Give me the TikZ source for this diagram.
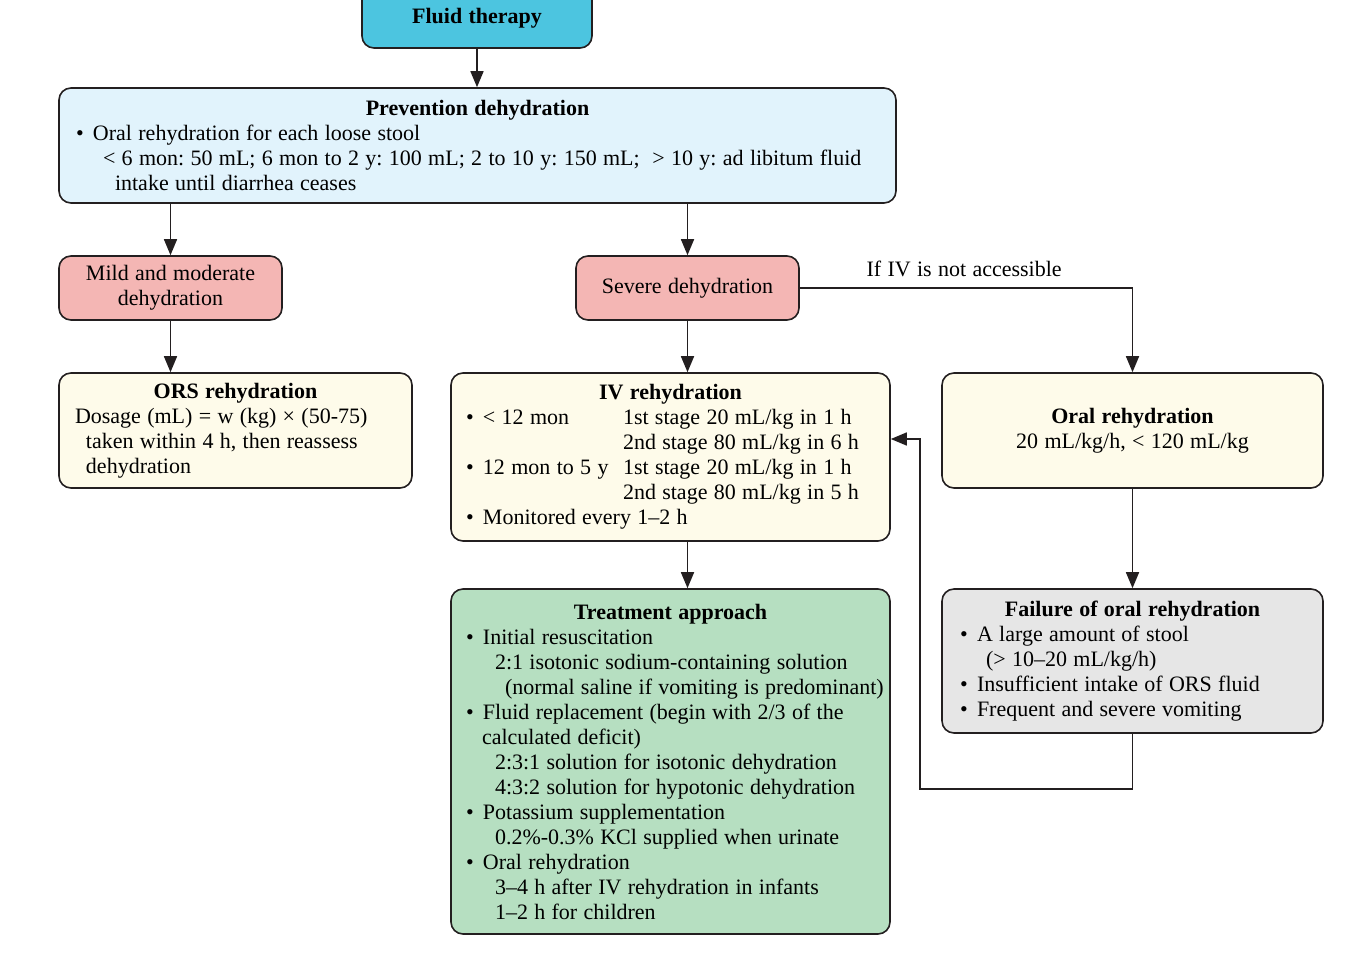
\documentclass[tikz,border=0pt]{standalone}
\usepackage{fontspec}
\setmainfont{Liberation Serif}[WordSpace=1.15]
\usetikzlibrary{arrows.meta}
\definecolor{linec}{RGB}{35,31,32}
\definecolor{fluidc}{RGB}{76,197,224}
\definecolor{prevc}{RGB}{225,243,252}
\definecolor{pinkc}{RGB}{244,182,180}
\definecolor{creamc}{RGB}{254,251,234}
\definecolor{greenc}{RGB}{182,223,193}
\definecolor{grayc}{RGB}{230,230,230}
\newcommand\mybul{\makebox[8.5pt][l]{\textbullet}}
\newcommand\LL[1]{\mbox{#1}}
\newcommand\nsp{\spaceskip=0pt\relax\xspaceskip=0pt\relax}
\newcommand\ttl[1]{\nsp\noindent\makebox[\hsize]{\bfseries #1}}
\newcommand\cl[1]{\nsp #1}
\frenchspacing
\begin{document}
\begin{tikzpicture}[x=0.5pt,y=-0.5pt,
  box/.style={draw=linec, line width=0.8pt, rounded corners=6pt, inner ysep=0pt,
    font=\fontsize{11}{12.5}\selectfont, text=black},
  lbox/.style={box, align=left},
  cbox/.style={box, align=center},
  arr/.style={-{Triangle[length=8pt,width=6.5pt]}, line width=0.8pt, draw=linec},
  lbl/.style={font=\fontsize{11}{12.5}\selectfont}]
\useasboundingbox (0,0) rectangle (1368,979);
\clip (0,0) rectangle (1368,979);

\node[cbox, fill=fluidc, minimum width=115pt, minimum height=30pt] (fluid) at (477,18) {\cl{\bfseries Fluid therapy}};

\node[lbox, fill=prevc, minimum width=418.5pt, minimum height=57.5pt, text width=401.5pt, inner xsep=8.5pt] (prev) at (477.5,145.5)
{\ttl{Prevention dehydration}\\
\LL{\mybul Oral rehydration for each loose stool}\\
\LL{\hspace*{13.5pt}< 6 mon: 50 mL; 6 mon to 2 y: 100 mL; 2 to 10 y: 150 mL;\ \ > 10 y: ad libitum fluid}\\
\LL{\hspace*{19.5pt}intake until diarrhea ceases}};

\node[cbox, fill=pinkc, minimum width=111.5pt, minimum height=32pt] (mild) at (170.5,288) {\cl{Mild and moderate}\\\cl{dehydration}};
\node[cbox, fill=pinkc, minimum width=111.5pt, minimum height=32pt] (severe) at (687.5,288) {\cl{Severe dehydration}};

\node[lbox, fill=creamc, minimum width=176.5pt, minimum height=57.5pt, text width=160.5pt, inner xsep=8pt] (ors) at (235.5,430.5)
{\ttl{ORS rehydration}\\
\LL{Dosage (mL) = w (kg) × (50-75)}\\
\LL{\hspace*{5.5pt}taken within 4 h, then reassess}\\
\LL{\hspace*{5.5pt}dehydration}};

\node[lbox, fill=creamc, minimum width=219.5pt, minimum height=84pt, text width=204.5pt, inner xsep=7.5pt] (iv) at (670.5,457)
{\ttl{IV rehydration}\\
\LL{\mybul\makebox[70pt][l]{< 12 mon}1st stage 20 mL/kg in 1 h}\\
\LL{\hspace*{78.5pt}2nd stage 80 mL/kg in 6 h}\\
\LL{\mybul\makebox[70pt][l]{12 mon to 5 y}1st stage 20 mL/kg in 1 h}\\
\LL{\hspace*{78.5pt}2nd stage 80 mL/kg in 5 h}\\
\LL{\mybul Monitored every 1–2 h}};

\node[cbox, fill=creamc, minimum width=190.5pt, minimum height=57.5pt] (oral) at (1132.5,430.5)
{\cl{\textbf{Oral rehydration}}\\\cl{20 mL/kg/h, < 120 mL/kg}};

\node[lbox, fill=greenc, minimum width=219.5pt, minimum height=172.5pt, text width=204.5pt, inner xsep=7.5pt] (treat) at (670.5,761.5)
{\ttl{Treatment approach}\\
\LL{\mybul Initial resuscitation}\\
\LL{\hspace*{14.5pt}2:1 isotonic sodium-containing solution}\\
\LL{\hspace*{19.5pt}(normal saline if vomiting is predominant)}\\
\LL{\mybul Fluid replacement (begin with 2/3 of the}\\
\LL{\hspace*{8pt}calculated deficit)}\\
\LL{\hspace*{14.5pt}2:3:1 solution for isotonic dehydration}\\
\LL{\hspace*{14.5pt}4:3:2 solution for hypotonic dehydration}\\
\LL{\mybul Potassium supplementation}\\
\LL{\hspace*{14.5pt}0.2\%-0.3\% KCl supplied when urinate}\\
\LL{\mybul Oral rehydration}\\
\LL{\hspace*{14.5pt}3–4 h after IV rehydration in infants}\\
\LL{\hspace*{14.5pt}1–2 h for children}};

\node[lbox, fill=grayc, minimum width=190.5pt, minimum height=72pt, text width=172.5pt, inner xsep=9pt] (fail) at (1132.5,661)
{\ttl{Failure of oral rehydration}\\
\LL{\mybul A large amount of stool}\\
\LL{\hspace*{13pt}(> 10–20 mL/kg/h)}\\
\LL{\mybul Insufficient intake of ORS fluid}\\
\LL{\mybul Frequent and severe vomiting}};

\coordinate (loop) at (920,789);

\draw[arr] (fluid.south) -- (fluid.south |- prev.north);
\draw[arr] (prev.south -| mild) -- (mild.north);
\draw[arr] (prev.south -| severe) -- (severe.north);
\draw[arr] (mild.south) -- (mild.south |- ors.north);
\draw[arr] (severe.south) -- (severe.south |- iv.north);
\draw[arr] (severe.east) -- node[lbl, above=2pt, xshift=-1pt]{If IV is not accessible} (severe.east -| oral.north) -- (oral.north);
\draw[arr] (oral.south) -- (fail.north);
\draw[arr] (iv.south -| severe) -- (treat.north -| severe);
\draw[arr] (fail.south) |- (loop) |- ([yshift=9pt]iv.east);
\end{tikzpicture}
\end{document}
